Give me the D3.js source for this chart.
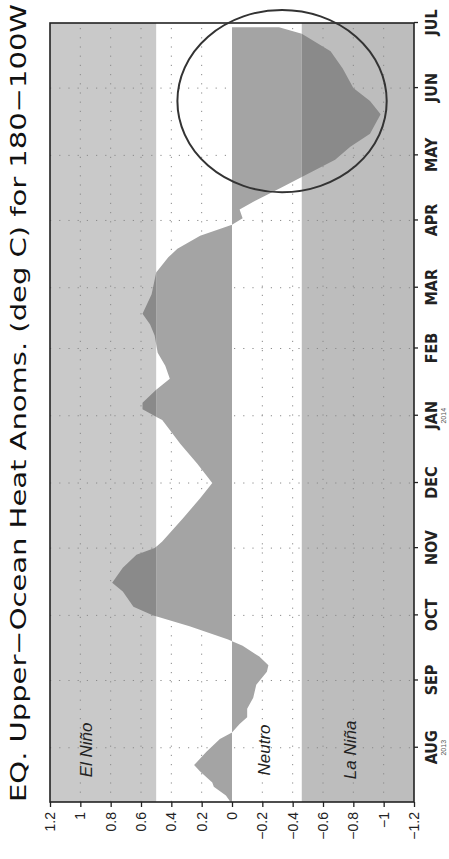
<!DOCTYPE html>
<html>
<head>
<meta charset="utf-8">
<script src="https://cdn.jsdelivr.net/npm/d3@7/dist/d3.min.js"></script>
<style>
  body { margin: 0; background: #fff; }
</style>
</head>
<body>
<script>
    // anomaly series (deg C)
    const dates = ["2013-07-07","2013-07-10","2013-07-14","2013-07-16","2013-07-21","2013-07-24","2013-07-30",
        "2013-08-05","2013-08-08","2013-08-12","2013-08-15","2013-08-19","2013-08-24","2013-08-30",
        "2013-09-05","2013-09-08","2013-09-12","2013-09-17","2013-09-20","2013-09-26",
        "2013-10-01","2013-10-05","2013-10-12","2013-10-16","2013-10-23","2013-10-29",
        "2013-11-01","2013-11-04","2013-11-15","2013-11-24",
        "2013-12-01","2013-12-10","2013-12-19","2013-12-30",
        "2014-01-04","2014-01-07","2014-01-13","2014-01-18","2014-01-24","2014-01-30",
        "2014-02-07","2014-02-12","2014-02-17","2014-02-26",
        "2014-03-08","2014-03-15","2014-03-19","2014-03-25","2014-03-30",
        "2014-04-02","2014-04-06","2014-04-10","2014-04-16","2014-04-21","2014-04-29",
        "2014-05-05","2014-05-11","2014-05-20","2014-05-26",
        "2014-06-01","2014-06-10","2014-06-18","2014-06-26","2014-06-29"];
    const anoms = [0.01, 0.04, 0.12, 0.13, 0.21, 0.25, 0.17,
        0.08, 0.0, -0.05, -0.10, -0.10, -0.14, -0.16,
        -0.23, -0.24, -0.18, -0.07, 0.03, 0.28,
        0.52, 0.65, 0.72, 0.79, 0.72, 0.63,
        0.51, 0.46, 0.32, 0.21,
        0.13, 0.23, 0.34, 0.46,
        0.59, 0.59, 0.50, 0.41, 0.44, 0.49,
        0.51, 0.54, 0.59, 0.53,
        0.50, 0.42, 0.36, 0.21, 0.0,
        -0.07, -0.05, -0.15, -0.32, -0.46, -0.68,
        -0.78, -0.91, -0.98, -0.91,
        -0.80, -0.73, -0.65, -0.46, -0.31];

    const valueTicks = [1.2, 1, 0.8, 0.6, 0.4, 0.2, 0, -0.2, -0.4, -0.6, -0.8, -1, -1.2];
    const monthDates = ["2013-08-01","2013-09-01","2013-10-01","2013-11-01","2013-12-01","2014-01-01",
        "2014-02-01","2014-03-01","2014-04-01","2014-05-01","2014-06-01","2014-07-01"];
    const monthLabels = ["AUG","SEP","OCT","NOV","DEC","JAN","FEB","MAR","APR","MAY","JUN","JUL"];
    const yearDates = ["2013-08-01","2014-01-01"];
    const yearLabels = ["2013","2014"];
    const bandNames = ["El Niño", "Neutro", "La Niña"];
    const elNino = 0.5, laNina = -0.46;
    const timeDomain = ["2013-07-07", "2014-07-01"];

    const parse = d3.timeParse("%Y-%m-%d");
    const data = dates.map((d, i) => ({date: parse(d), v: anoms[i]}));

    const W = 449, H = 859;
    // the chart is drawn landscape and turned a quarter turn
    const w = 779, h = 364;
    const left = 50, bottom = 802;

    const svg = d3.select("body").append("svg")
        .attr("width", W)
        .attr("height", H);

    const defs = svg.append("defs");

    const g = svg.append("g")
        .attr("transform", "translate(" + left + "," + bottom + ") rotate(-90)");

    const x = d3.scaleTime()
        .domain(timeDomain.map(parse))
        .range([0, w]);

    const y = d3.scaleLinear()
        .domain([-1.2, 1.2])
        .range([h, 0]);

    // clip regions: neutral zone and the two shaded zones
    defs.append("clipPath").attr("id", "neutral")
        .append("rect")
        .attr("x", 0).attr("width", w)
        .attr("y", y(elNino)).attr("height", y(laNina) - y(elNino));
    const bands = defs.append("clipPath").attr("id", "bands");
    bands.append("rect").attr("x", 0).attr("width", w)
        .attr("y", 0).attr("height", y(elNino));
    bands.append("rect").attr("x", 0).attr("width", w)
        .attr("y", y(laNina)).attr("height", h - y(laNina));

    // backgrounds
    g.append("rect")
        .attr("x", 0).attr("y", 0)
        .attr("width", w).attr("height", y(elNino))
        .attr("fill", "#c9c9c9");
    g.append("rect")
        .attr("x", 0).attr("y", y(laNina))
        .attr("width", w).attr("height", h - y(laNina))
        .attr("fill", "#bdbdbd");

    // dotted grid
    const grid = g.append("g").attr("stroke", "#8a8a8a").attr("stroke-width", 1).attr("stroke-dasharray", "1.2,8");
    grid.selectAll(".gv")
        .data(valueTicks.filter(v => v !== 0 && Math.abs(v) < 1.2))
        .enter().append("line")
        .attr("x1", 0).attr("x2", w)
        .attr("y1", d => y(d)).attr("y2", d => y(d));
    grid.selectAll(".gm")
        .data(monthDates.slice(0, -1).map(parse))
        .enter().append("line")
        .attr("x1", d => x(d)).attr("x2", d => x(d))
        .attr("y1", 0).attr("y2", h);

    const area = d3.area()
        .x(d => x(d.date))
        .y0(y(0))
        .y1(d => y(d.v));

    g.append("path")
        .datum(data)
        .attr("clip-path", "url(#neutral)")
        .attr("fill", "#a4a4a4")
        .attr("d", area);
    g.append("path")
        .datum(data)
        .attr("clip-path", "url(#bands)")
        .attr("fill", "#8a8a8a")
        .attr("d", area);

    // zone names
    const labelX = x(parse("2013-07-31"));
    const labelY = [0.92, -0.25, -0.82];
    g.selectAll(".zone")
        .data(bandNames)
        .enter().append("text")
        .attr("x", labelX)
        .attr("y", (d, i) => y(labelY[i]))
        .attr("text-anchor", "middle")
        .attr("font-family", "Liberation Sans, Arial, sans-serif")
        .attr("font-style", "italic")
        .attr("font-size", 17)
        .attr("fill", "#222")
        .text(d => d);

    // frame
    g.append("rect")
        .attr("x", 0).attr("y", 0)
        .attr("width", w).attr("height", h)
        .attr("fill", "none")
        .attr("stroke", "#222")
        .attr("stroke-width", 1.6);

    // value axis
    const yAxis = d3.axisLeft(y)
        .tickValues(valueTicks)
        .tickSize(5)
        .tickPadding(5)
        .tickFormat(d => (d < 0 ? "\u2212" : "") + Math.abs(d));
    const ya = g.append("g").call(yAxis);
    ya.select(".domain").remove();
    ya.selectAll("line").attr("stroke", "#222").attr("stroke-width", 1.3);
    ya.selectAll("text")
        .attr("font-family", "Liberation Sans, Arial, sans-serif")
        .attr("font-size", 14)
        .attr("fill", "#222");

    // month axis
    const xAxis = d3.axisBottom(x)
        .tickValues(monthDates.map(parse))
        .tickSize(4)
        .tickPadding(8)
        .tickFormat((d, i) => monthLabels[i]);
    const xa = g.append("g")
        .attr("transform", "translate(0," + h + ")")
        .call(xAxis);
    xa.select(".domain").remove();
    xa.selectAll("line").attr("stroke", "#222").attr("stroke-width", 1.3);
    xa.selectAll("text")
        .attr("font-family", "Liberation Sans Narrow, DejaVu Sans Condensed, Arial Narrow, sans-serif")
        .attr("font-weight", "bold")
        .attr("font-size", 16)
        .attr("fill", "#222");

    g.selectAll(".year")
        .data(yearDates)
        .enter().append("text")
        .attr("x", d => x(parse(d)))
        .attr("y", h + 32)
        .attr("text-anchor", "middle")
        .attr("font-family", "Liberation Sans, Arial, sans-serif")
        .attr("font-size", 7)
        .attr("fill", "#555")
        .text((d, i) => yearLabels[i]);

    // title
    g.append("text")
        .attr("x", 0)
        .attr("y", -24)
        .attr("font-family", "DejaVu Sans, sans-serif")
        .attr("font-size", 21)
        .attr("fill", "#111")
        .attr("textLength", 798)
        .attr("lengthAdjust", "spacingAndGlyphs")
        .text("EQ. Upper\u2212Ocean Heat Anoms. (deg C) for 180\u2212100W");

    // hand-drawn ring around the late spring dip
    const ringDate = parse("2014-05-26");
    const ringValue = -0.33;
    g.append("ellipse")
        .attr("cx", x(ringDate))
        .attr("cy", y(ringValue))
        .attr("rx", x(d3.timeDay.offset(ringDate, 42)) - x(ringDate))
        .attr("ry", y(ringValue - 0.69) - y(ringValue))
        .attr("fill", "none")
        .attr("stroke", "#333")
        .attr("stroke-width", 2);
</script>
</body>
</html>
